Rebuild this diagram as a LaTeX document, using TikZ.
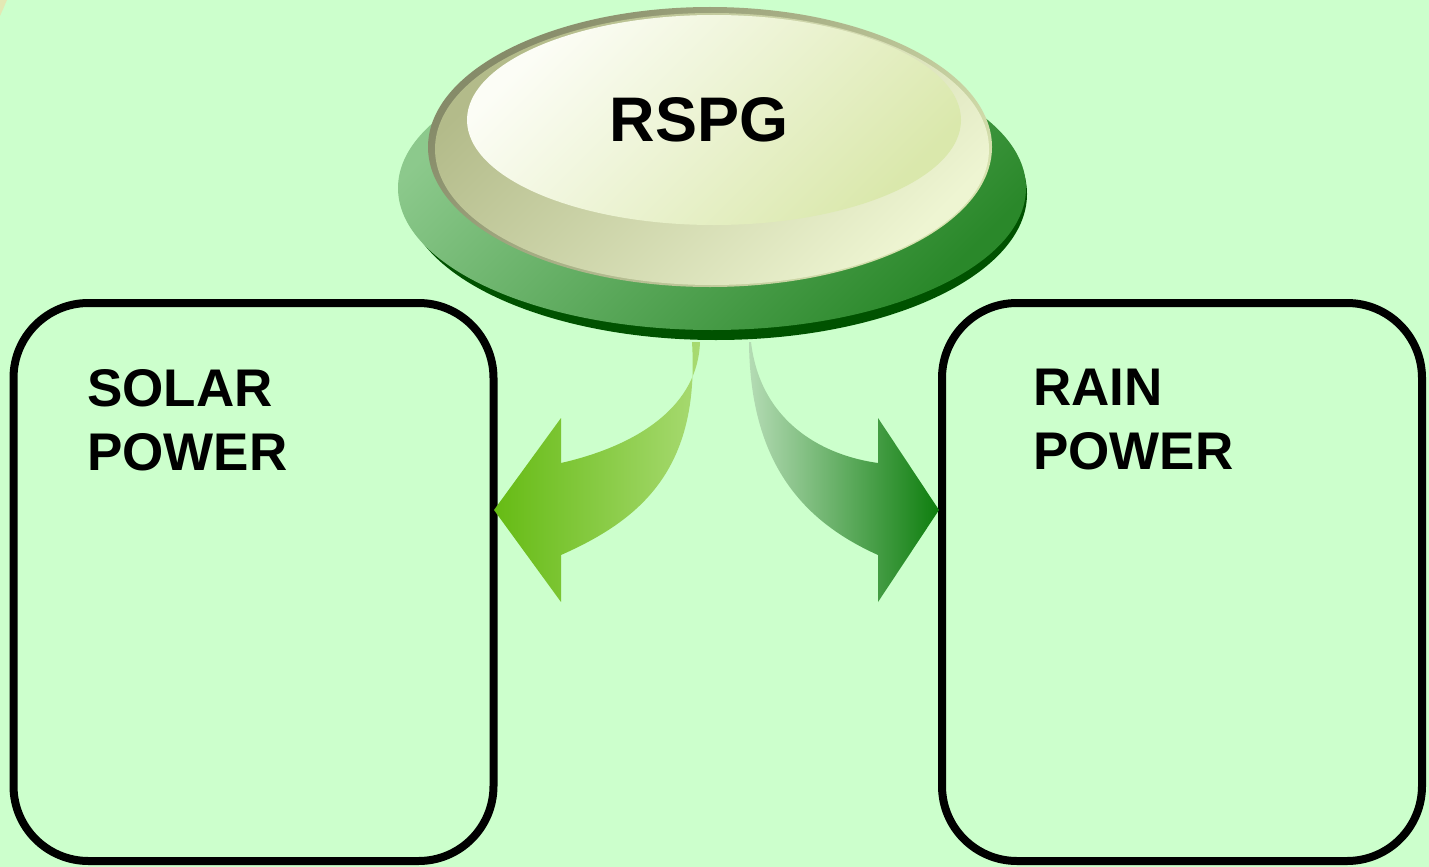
\documentclass[tikz,border=0pt]{standalone}
\usepackage{fontspec}
\setmainfont{Liberation Sans}
\begin{document}
\begin{tikzpicture}[x=1pt,y=-1pt]
\definecolor{bg}{HTML}{CCFFCC}
\definecolor{cornerY}{HTML}{E3E8B4}
\definecolor{rimdark}{HTML}{005200}
\definecolor{baseL}{HTML}{8CC98C}
\definecolor{baseD}{HTML}{2A882A}
\definecolor{ringOL}{HTML}{868B69}
\definecolor{ringOD}{HTML}{D6E1AE}
\definecolor{ringL}{HTML}{B3BB8A}
\definecolor{ringD}{HTML}{EEF5D2}
\definecolor{topL}{HTML}{FCFDF6}
\definecolor{topD}{HTML}{DAE8AC}
\definecolor{lArrL}{HTML}{66BB14}
\definecolor{lArrR}{HTML}{A8DA72}
\definecolor{rArrL}{HTML}{B4DBB4}
\definecolor{rArrR}{HTML}{0E7E0E}
\tikzset{
  box/.style={draw=black, line width=8pt, rounded corners=75pt,
    minimum width=480pt, minimum height=558pt, inner sep=0pt},
  boxlabel/.style={font=\bfseries\fontsize{53}{64}\selectfont, align=left,
    anchor=north west, inner sep=0pt},
}
\fill[bg] (0,0) rectangle (1429,867);
\useasboundingbox (0,0) rectangle (1429,867);
\fill[cornerY] (0,0) -- (7,0) .. controls (4,7) .. (0,16) -- cycle;

% boxes
\node[box] (solar) at (253.5,582) {};
\node[box] (rain) at (1182,582) {};
\node[boxlabel] (solarlbl) at (87,369) {SOLAR\\POWER};
\node[boxlabel] (rainlbl) at (1033,369) {RAIN\\POWER};

% base of the button
\fill[rimdark] (716,194) ellipse [x radius=311, y radius=146];
\shade[shading=axis, top color=baseL, bottom color=baseD, shading angle=45]
  (712,188) ellipse [x radius=314, y radius=142];
% ring
\shade[shading=axis, top color=ringOL, bottom color=ringOD, shading angle=45]
  (710,147) ellipse [x radius=282, y radius=140];
\shade[shading=axis, top color=ringL, bottom color=ringD, shading angle=45]
  (712,149) ellipse [x radius=277, y radius=136];
% top
\shade[shading=axis, top color=topL, bottom color=topD, shading angle=45]
  (714,120) ellipse [x radius=247, y radius=105];
\node[font=\bfseries\fontsize{63}{63}\selectfont, inner sep=0pt] (rspg) at (699,120) {RSPG};

% arrows
\coordinate (ltip) at (494,510);
\coordinate (rtip) at (939,510);
\shade[left color=lArrL, right color=lArrR]
  (700,342) .. controls (698,405) and (640,445) .. (561,463)
  -- (561,418) -- (ltip) -- (561,602) -- (561,555)
  .. controls (640,520) and (700,470) .. (692,342) -- cycle;
\shade[left color=rArrL, right color=rArrR]
  (751,342) .. controls (760,420) and (820,455) .. (878,463)
  -- (878,418) -- (rtip) -- (878,602) -- (878,555)
  .. controls (800,520) and (750,460) .. (749,342) -- cycle;
\end{tikzpicture}
\end{document}
